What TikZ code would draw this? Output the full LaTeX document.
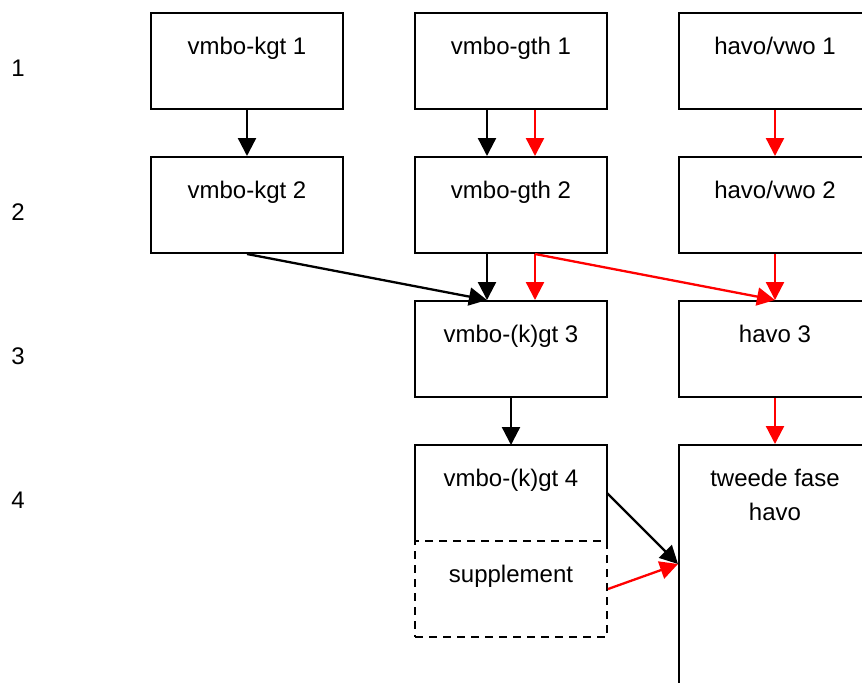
\documentclass[tikz,border=0pt]{standalone}
\usepackage{fontspec}
\setmainfont{Liberation Sans}
\usetikzlibrary{arrows.meta,positioning,calc}
\tikzstyle{stage}=[rectangle,draw,line width=1pt,minimum width=96pt,inner sep=0pt,text height=20.75pt,text depth=27.25pt,anchor=north west]
\tikzstyle{extra}=[stage,dash pattern=on 4pt off 3pt]
\tikzstyle{pass}=[draw,line width=1.15pt,-{Triangle[length=9pt,width=9pt]}]
\tikzstyle{redpass}=[pass,red]
\tikzstyle{rownr}=[inner sep=0pt]

\begin{document}
\begin{tikzpicture}[x=0.5pt,y=-0.5pt,font=\fontsize{12}{17}\selectfont]
    \useasboundingbox (0,0) rectangle (862,682);
    \clip (0,0) rectangle (862,682);
    % row numbers on the left
    \foreach \y/\n in {68/1,212/2,356/3,500/4}
        \node[rownr] (row\n) at (18,\y) {\n};

    % the boxes of the three streams
    \foreach \pos/\name/\label in {{(150,12)/kgtone/vmbo-kgt 1}, {(414,12)/gthone/vmbo-gth 1},
    {(678,12)/havoone/{havo/vwo 1}}, {(150,156)/kgttwo/vmbo-kgt 2}, {(414,156)/gthtwo/vmbo-gth 2},
    {(678,156)/havotwo/{havo/vwo 2}}, {(414,300)/kgtthree/vmbo-(k)gt 3}, {(678,300)/havothree/havo 3}}
        \node[stage] (\name) at \pos {\label};
    % year 4 is open at the bottom, the supplement hangs under it
    \node[stage,draw=none,outer sep=0pt] (kgtfour) at (415,445) {vmbo-(k)gt 4};
    \draw[line width=1pt] (kgtfour.south west) -- (kgtfour.north west) -- (kgtfour.north east) -- (kgtfour.south east);
    \node[extra] (supp) at (414,540) {supplement};
    \node[stage,align=center,text height=37.75pt,text depth=112.25pt] (tweede) at (678,444) {tweede fase\\havo};
    \coordinate (entry) at ([yshift=-60pt]tweede.north west);

    % black: vmbo route, red: havo route
    \path[pass] (kgtone) -- (kgttwo);
    \path[pass] ([xshift=-12pt]gthone.south) -- ([xshift=-12pt]gthtwo.north);
    \path[redpass] ([xshift=12pt]gthone.south) -- ([xshift=12pt]gthtwo.north);
    \path[redpass] (havoone.south) -- (havotwo.north);
    \path[pass] (kgttwo.south) -- ([xshift=-12pt]kgtthree.north);
    \path[pass] ([xshift=-12pt]gthtwo.south) -- ([xshift=-12pt]kgtthree.north);
    \path[redpass] ([xshift=12pt]gthtwo.south) -- ([xshift=12pt]kgtthree.north);
    \path[redpass] ([xshift=12pt]gthtwo.south) -- (havothree.north);
    \path[redpass] (havotwo.south) -- (havothree.north);
    \path[pass] (kgtthree.south) -- (kgtfour.north);
    \path[redpass] (havothree.south) -- (tweede.north);
    \path[pass] (kgtfour.east) -- (entry);
    \path[redpass] (supp.east) -- (entry);
\end{tikzpicture}
\end{document}
